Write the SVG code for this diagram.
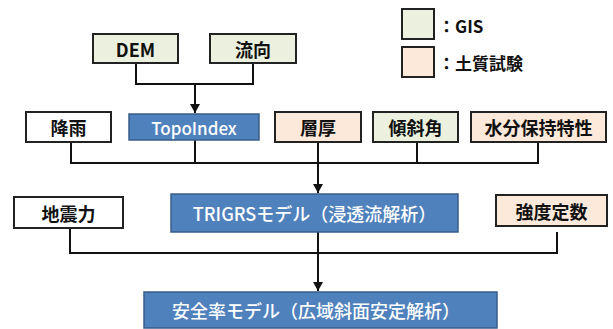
<svg xmlns="http://www.w3.org/2000/svg" width="613" height="329" viewBox="0 0 613 329">
<defs>
<marker id="ah" markerWidth="10" markerHeight="10" refX="9" refY="5" orient="auto" markerUnits="userSpaceOnUse" viewBox="0 0 10 10">
<path d="M0,0 L9,5 L0,10 Z" fill="#111"/>
</marker>
<style>
.b{stroke:#222;stroke-width:2}
.w{fill:#fff}
.g{fill:#ebf1de}
.p{fill:#fde9d9}
.bl{fill:#4f81bd;stroke:#385d8a;stroke-width:1.5}
.t{font-family:"Noto Sans CJK JP","Noto Sans",sans-serif;font-weight:bold;font-size:18px;fill:#111;text-anchor:middle;dominant-baseline:central}
.tw{font-family:"Noto Sans CJK JP","Noto Sans",sans-serif;font-weight:500;font-size:17px;fill:#fff;text-anchor:middle;dominant-baseline:central}
.tl{font-family:"Noto Sans CJK JP","Noto Sans",sans-serif;font-weight:bold;font-size:17px;fill:#111;dominant-baseline:central}
.c{fill:none;stroke:#111;stroke-width:2}
</style>
</defs>
<rect width="613" height="329" fill="#fff"/>
<g id="legend">
<rect class="b g" x="402" y="9" width="32" height="30"/>
<text class="tl" x="438" y="25">：GIS</text>
<rect class="b p" x="402" y="47" width="32" height="30"/>
<text class="tl" x="438" y="62">：土質試験</text>
</g>
<g id="connectors">
<path class="c" d="M136,63 V84 H253 V63"/>
<path class="c" d="M195,84 V113" marker-end="url(#ah)"/>
<path class="c" d="M71,142 V163 H538 V142"/>
<path class="c" d="M195,140 V163"/>
<path class="c" d="M318,142 V163"/>
<path class="c" d="M417,142 V163"/>
<path class="c" d="M318,163 V193" marker-end="url(#ah)"/>
<path class="c" d="M70,229 V253 H557 V232"/>
<path class="c" d="M318,232 V291" marker-end="url(#ah)"/>
</g>
<g id="dem"><rect class="b g" x="93" y="34" width="85" height="29"/><text class="t" x="135.5" y="48.5">DEM</text></g>
<g id="ryuko"><rect class="b g" x="210" y="34" width="86" height="29"/><text class="t" x="253" y="48.5">流向</text></g>
<g id="kou"><rect class="b w" x="26" y="112" width="85" height="30"/><text class="t" x="68.5" y="127">降雨</text></g>
<g id="topo"><rect class="bl" x="129" y="114" width="130" height="26"/><text class="tw" x="194" y="127">TopoIndex</text></g>
<g id="soatsu"><rect class="b p" x="275" y="112" width="86" height="30"/><text class="t" x="318" y="127">層厚</text></g>
<g id="keisha"><rect class="b g" x="373" y="112" width="85" height="30"/><text class="t" x="415.5" y="127">傾斜角</text></g>
<g id="suibun"><rect class="b p" x="471" y="112" width="135" height="30"/><text class="t" x="538.5" y="127">水分保持特性</text></g>
<g id="jishin"><rect class="b w" x="14" y="197" width="109" height="31"/><text class="t" x="68.5" y="212.5">地震力</text></g>
<g id="trigrs"><rect class="bl" x="171" y="194" width="287" height="38"/><text class="tw" x="314.5" y="213" style="font-size:18px">TRIGRSモデル（浸透流解析）</text></g>
<g id="kyodo"><rect class="b p" x="496" y="195" width="111" height="31"/><text class="t" x="551.5" y="210.5">強度定数</text></g>
<g id="anzen"><rect class="bl" x="144" y="292" width="353" height="36"/><text class="tw" x="316" y="310" style="font-size:18px">安全率モデル（広域斜面安定解析）</text></g>
</svg>
